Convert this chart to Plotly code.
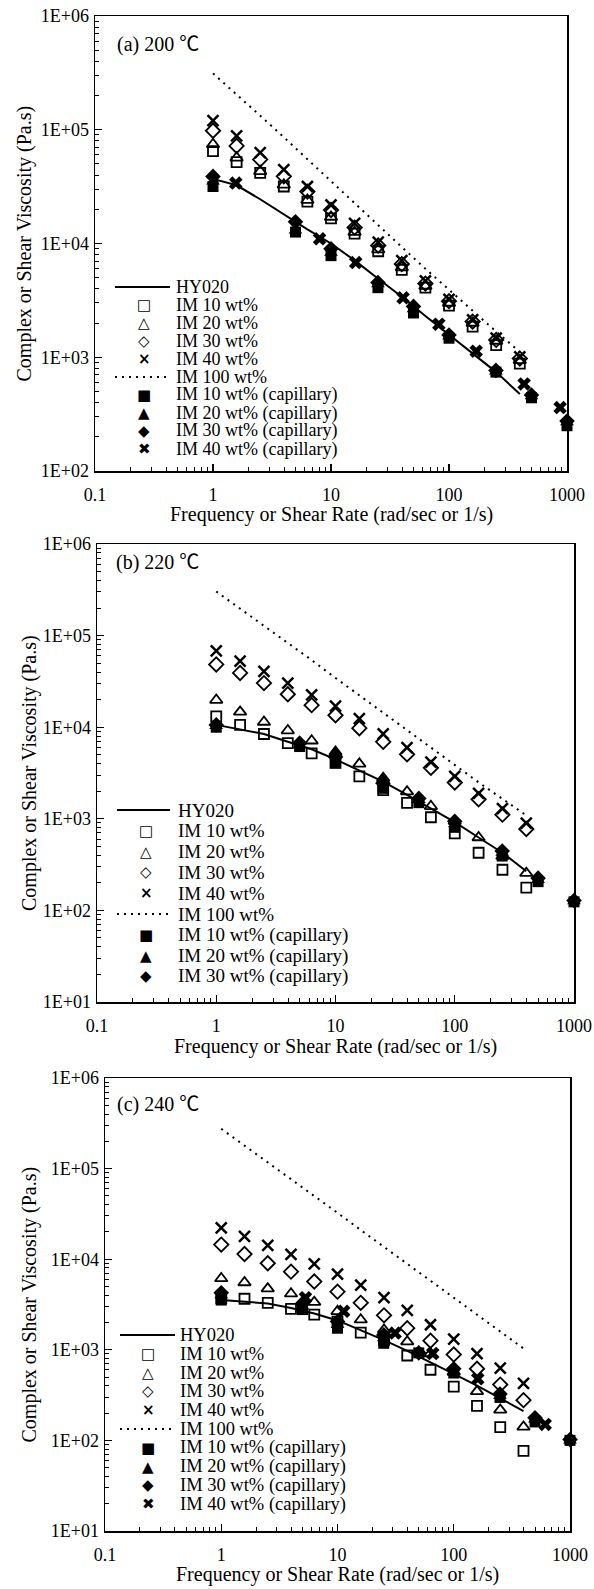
import plotly.graph_objects as go

# ---------------- data ----------------
FREQ = [1.0, 1.585, 2.512, 3.981, 6.310, 10.0, 15.85, 25.12, 39.81, 63.10, 100.0, 158.5, 251.2, 398.1]
CAP_RATE = [1, 5, 10, 25, 50, 100, 250, 500, 1000]

# (a) 200 C
A_HY020 = [37000, 32500, 24500, 18000, 13300, 10000, 7100, 4900, 3400, 2300, 1580, 1080, 740, 475]
A_IM10 = [65000, 51900, 41700, 31700, 23300, 16600, 12200, 8550, 5870, 4090, 2840, 1860, 1280, 878]
A_IM20 = [74500, 56700, 43100, 32800, 24100, 17100, 12600, 8850, 6150, 4230, 3000, 2000, 1390, 940]
A_IM30 = [98000, 72000, 54800, 39000, 28600, 19700, 13800, 9600, 6590, 4440, 3110, 2060, 1420, 973]
A_IM40 = [120000, 88500, 62800, 44700, 31700, 21800, 15000, 10300, 7060, 4690, 3220, 2130, 1470, 1007]
A_IM100 = [313000, 205000, 133000, 86000, 55000, 35000, 22500, 14500, 9300, 6000, 3900, 2550, 1680, 1115]
A_CAP10 = [31700, 12600, 7820, 4090, 2450, 1470, 740, 440, 250]
A_CAP20 = [35000, 13000, 8300, 4380, 2640, 1520, 750, 455, 268]
A_CAP30 = [38900, 15500, 8970, 4530, 2800, 1570, 766, 465, 275]
A_CAP40_RATE = [1.56, 8.0, 16.2, 40.8, 82, 170, 433, 874]
A_CAP40 = [34000, 11000, 6800, 3330, 1950, 1130, 583, 361]

# (b) 220 C
B_HY020 = [10600, 9500, 8430, 6930, 5740, 4450, 3390, 2550, 1820, 1290, 918, 625, 426, 267]
B_IM10 = [13100, 10600, 8430, 6700, 5190, 4080, 2900, 2060, 1490, 1040, 693, 426, 278, 177]
B_IM20 = [19800, 14700, 11400, 9190, 7110, 5270, 3980, 2780, 1980, 1370, 942, 625, 392, 255]
B_IM30 = [48400, 39100, 30300, 22900, 17400, 13500, 9750, 6930, 5060, 3600, 2490, 1630, 1110, 774]
B_IM40 = [68100, 52800, 40800, 30300, 22500, 17000, 12400, 8430, 6000, 4160, 2900, 1900, 1290, 895]
B_IM100 = [303000, 198000, 129000, 84000, 54000, 34500, 22200, 14300, 9200, 5950, 3850, 2500, 1650, 1090]
B_CAP10 = [10000, 6150, 4080, 2150, 1500, 807, 392, 206, 124]
B_CAP20 = [10300, 6360, 5500, 2700, 1600, 870, 426, 215, 126]
B_CAP30 = [10600, 6700, 4740, 2450, 1670, 940, 445, 225, 128]

# (c) 240 C
C_HY020 = [3540, 3420, 3250, 2900, 2510, 2110, 1660, 1280, 975, 735, 543, 402, 292, 211]
C_IM10 = [3700, 3660, 3300, 2830, 2440, 2050, 1550, 1280, 865, 602, 392, 240, 140, 76.6]
C_IM20 = [6130, 5530, 4730, 4160, 3360, 2660, 2150, 1660, 1230, 910, 567, 348, 217, 141]
C_IM30 = [14500, 11400, 9020, 7280, 5670, 4380, 3300, 2400, 1730, 1260, 887, 618, 413, 278]
C_IM40 = [22200, 17900, 14200, 11300, 8870, 6850, 5160, 3760, 2730, 1890, 1310, 910, 629, 427]
C_IM100 = [275000, 180000, 118000, 77000, 50000, 32500, 21000, 13700, 8900, 5800, 3800, 2450, 1600, 1035]
C_CAP10 = [3540, 2780, 1730, 1180, 925, 554, 298, 160, 100]
C_CAP20 = [4000, 3030, 1880, 1340, 925, 584, 311, 170, 100]
C_CAP30 = [4270, 3250, 2050, 1460, 925, 618, 325, 178, 102]
C_CAP40_RATE = [5.3, 11.3, 31.3, 66, 161, 612]
C_CAP40 = [3760, 2660, 1530, 910, 478, 150]

X_TICKS = [0.1, 1, 10, 100, 1000]
X_TICKTEXT = ["0.1", "1", "10", "100", "1000"]
PANEL_LABELS = ["(a) 200 \u2103", "(b) 220 \u2103", "(c) 240 \u2103"]
X_TITLE = "Frequency or Shear Rate (rad/sec or 1/s)"
Y_TITLE = "Complex or Shear Viscosity (Pa.s)"

# ---------------- styles / layout ----------------
W, H = 594, 1589
SERIF = "Liberation Serif, Times New Roman, serif"
LABEL_FONT = "Liberation Serif, Noto Sans CJK SC, serif"
GLYPH_FONT = "DejaVu Sans"

LINE_SOLID = dict(color="black", width=2)
LINE_DOT = dict(color="black", width=2, dash="2px,5px")

MARK = {
    "IM 10 wt%": dict(symbol="square-open", size=10, color="black", line=dict(width=1.8, color="black")),
    "IM 20 wt%": dict(symbol="triangle-up-open", size=11, color="black", line=dict(width=1.8, color="black")),
    "IM 30 wt%": dict(symbol="diamond-open", size=11, color="black", line=dict(width=1.8, color="black")),
    "IM 40 wt%": dict(symbol="x-thin-open", size=11, color="black", line=dict(width=2.5, color="black")),
    "IM 10 wt% (capillary)": dict(symbol="square", size=11, color="black"),
    "IM 20 wt% (capillary)": dict(symbol="triangle-up", size=12, color="black"),
    "IM 30 wt% (capillary)": dict(symbol="diamond", size=12, color="black"),
    "IM 40 wt% (capillary)": dict(symbol="x", size=12, color="black", line=dict(width=0)),
}
GLYPH = {
    "IM 10 wt%": "\u25a1", "IM 20 wt%": "\u25b3", "IM 30 wt%": "\u25c7", "IM 40 wt%": "\u00d7",
    "IM 10 wt% (capillary)": "\u25a0", "IM 20 wt% (capillary)": "\u25b2",
    "IM 30 wt% (capillary)": "\u25c6", "IM 40 wt% (capillary)": "\u2716",
}

panels = [
    dict(box=(95, 567, 16, 471), yr=(2, 6),
         lines=[("HY020", FREQ, A_HY020, LINE_SOLID), ("IM 100 wt%", FREQ, A_IM100, LINE_DOT)],
         marks=[("IM 10 wt%", FREQ, A_IM10), ("IM 20 wt%", FREQ, A_IM20), ("IM 30 wt%", FREQ, A_IM30),
                ("IM 40 wt%", FREQ, A_IM40), ("IM 10 wt% (capillary)", CAP_RATE, A_CAP10),
                ("IM 20 wt% (capillary)", CAP_RATE, A_CAP20), ("IM 30 wt% (capillary)", CAP_RATE, A_CAP30),
                ("IM 40 wt% (capillary)", A_CAP40_RATE, A_CAP40)],
         legend=["HY020", "IM 10 wt%", "IM 20 wt%", "IM 30 wt%", "IM 40 wt%", "IM 100 wt%",
                 "IM 10 wt% (capillary)", "IM 20 wt% (capillary)", "IM 30 wt% (capillary)", "IM 40 wt% (capillary)"],
         leg_y0=287, leg_dy=18.0, leg_x=(115, 170, 144, 174), leg_font=18,
         label_xy=(115, 44), xtitle_y=515, ytitle_x=24),
    dict(box=(97, 574, 544, 1002), yr=(1, 6),
         lines=[("HY020", FREQ, B_HY020, LINE_SOLID), ("IM 100 wt%", FREQ, B_IM100, LINE_DOT)],
         marks=[("IM 10 wt%", FREQ, B_IM10), ("IM 20 wt%", FREQ, B_IM20), ("IM 30 wt%", FREQ, B_IM30),
                ("IM 40 wt%", FREQ, B_IM40), ("IM 10 wt% (capillary)", CAP_RATE, B_CAP10),
                ("IM 20 wt% (capillary)", CAP_RATE, B_CAP20), ("IM 30 wt% (capillary)", CAP_RATE, B_CAP30)],
         legend=["HY020", "IM 10 wt%", "IM 20 wt%", "IM 30 wt%", "IM 40 wt%", "IM 100 wt%",
                 "IM 10 wt% (capillary)", "IM 20 wt% (capillary)", "IM 30 wt% (capillary)"],
         leg_y0=810, leg_dy=20.8, leg_x=(117, 170, 146, 176), leg_font=19,
         label_xy=(114, 562), xtitle_y=1046, ytitle_x=30),
    dict(box=(105, 570, 1078, 1531), yr=(1, 6),
         lines=[("HY020", FREQ, C_HY020, LINE_SOLID), ("IM 100 wt%", FREQ, C_IM100, LINE_DOT)],
         marks=[("IM 10 wt%", FREQ, C_IM10), ("IM 20 wt%", FREQ, C_IM20), ("IM 30 wt%", FREQ, C_IM30),
                ("IM 40 wt%", FREQ, C_IM40), ("IM 10 wt% (capillary)", CAP_RATE, C_CAP10),
                ("IM 20 wt% (capillary)", CAP_RATE, C_CAP20), ("IM 30 wt% (capillary)", CAP_RATE, C_CAP30),
                ("IM 40 wt% (capillary)", C_CAP40_RATE, C_CAP40)],
         legend=["HY020", "IM 10 wt%", "IM 20 wt%", "IM 30 wt%", "IM 40 wt%", "IM 100 wt%",
                 "IM 10 wt% (capillary)", "IM 20 wt% (capillary)", "IM 30 wt% (capillary)", "IM 40 wt% (capillary)"],
         leg_y0=1335, leg_dy=18.8, leg_x=(120, 175, 148, 178), leg_font=18.5,
         label_xy=(115, 1104), xtitle_y=1574, ytitle_x=29),
]


def px(x):
    return x / W


def py(y):
    return 1 - y / H


X_MINOR = [m * 10 ** k for k in range(-1, 3) for m in range(2, 10)]

fig = go.Figure()
annotations = []
shapes = []
layout_axes = {}

for i, p in enumerate(panels):
    sfx = "" if i == 0 else str(i + 1)
    xa, ya = "x" + sfx, "y" + sfx
    for name, xs, ys, line in p["lines"]:
        fig.add_trace(go.Scatter(x=xs, y=ys, mode="lines", name=name, line=line,
                                 xaxis=xa, yaxis=ya, showlegend=False, cliponaxis=False))
    for name, xs, ys in p["marks"]:
        fig.add_trace(go.Scatter(x=xs, y=ys, mode="markers", name=name, marker=MARK[name],
                                 xaxis=xa, yaxis=ya, showlegend=False, cliponaxis=False))

    l, r, t, b = p["box"]
    y0, y1 = p["yr"]
    y_ticks = [10 ** k for k in range(y0, y1 + 1)]
    y_text = ["1E+%02d" % k for k in range(y0, y1 + 1)]
    y_minor = [m * 10 ** k for k in range(y0, y1) for m in range(2, 10)]
    common = dict(type="log", showline=True, mirror=True, linecolor="black", linewidth=1.5,
                  ticks="inside", ticklen=7, tickwidth=1.2, tickcolor="black",
                  showgrid=False, zeroline=False, automargin=False, ticklabeloverflow="allow",
                  tickfont=dict(family=SERIF, size=18, color="black"))
    layout_axes["xaxis" + sfx] = dict(common, domain=[px(l), px(r)], anchor=ya, range=[-1, 3],
                                      tickmode="array", tickvals=X_TICKS, ticktext=X_TICKTEXT,
                                      ticklabelstandoff=7,
                                      minor=dict(tickmode="array", tickvals=X_MINOR, ticks="inside",
                                                 ticklen=4, tickwidth=1, tickcolor="black", showgrid=False))
    layout_axes["yaxis" + sfx] = dict(common, domain=[py(b), py(t)], anchor=xa, range=[y0, y1],
                                      tickmode="array", tickvals=y_ticks, ticktext=y_text,
                                      ticklabelstandoff=1,
                                      minor=dict(tickmode="array", tickvals=y_minor, ticks="inside",
                                                 ticklen=4, tickwidth=1, tickcolor="black", showgrid=False))

    # panel label
    lx, ly = p["label_xy"]
    annotations.append(dict(text=PANEL_LABELS[i], x=px(lx), y=py(ly), xref="paper", yref="paper",
                            xanchor="left", yanchor="middle", showarrow=False,
                            font=dict(family=LABEL_FONT, size=20, color="black")))
    # axis titles
    annotations.append(dict(text=X_TITLE, x=px((l + r) / 2), y=py(p["xtitle_y"]), xref="paper", yref="paper",
                            xanchor="center", yanchor="middle", showarrow=False,
                            font=dict(family=SERIF, size=20, color="black")))
    annotations.append(dict(text=Y_TITLE, x=px(p["ytitle_x"]), y=py((t + b) / 2), xref="paper", yref="paper",
                            xanchor="center", yanchor="middle", showarrow=False, textangle=-90,
                            font=dict(family=SERIF, size=20, color="black")))

    # legend (drawn in page coordinates)
    lx0, lx1, sx, tx = p["leg_x"]
    for k, name in enumerate(p["legend"]):
        yy = p["leg_y0"] + k * p["leg_dy"]
        if name == "HY020":
            shapes.append(dict(type="line", xref="paper", yref="paper", x0=px(lx0), x1=px(lx1),
                               y0=py(yy), y1=py(yy), line=LINE_SOLID))
        elif name == "IM 100 wt%":
            shapes.append(dict(type="line", xref="paper", yref="paper", x0=px(lx0), x1=px(lx1),
                               y0=py(yy), y1=py(yy), line=LINE_DOT))
        else:
            annotations.append(dict(text="<b>" + GLYPH[name] + "</b>", x=px(sx), y=py(yy), xref="paper", yref="paper",
                                    xanchor="center", yanchor="middle", showarrow=False,
                                    font=dict(family=GLYPH_FONT, size=15, color="black")))
        annotations.append(dict(text=name, x=px(tx), y=py(yy), xref="paper", yref="paper",
                                xanchor="left", yanchor="middle", showarrow=False,
                                font=dict(family=SERIF, size=p["leg_font"], color="black")))

fig.update_layout(width=W, height=H, margin=dict(l=0, r=0, t=0, b=0, autoexpand=False),
                  paper_bgcolor="white", plot_bgcolor="white", showlegend=False,
                  hovermode=False,
                  annotations=annotations, shapes=shapes, **layout_axes)

# remove the browser's default 8px page margin so the figure fills the window exactly
fig.write_html("out.html", config={"displayModeBar": False, "staticPlot": True},
               post_script="document.body.style.margin='0';document.body.style.overflow='hidden';")
